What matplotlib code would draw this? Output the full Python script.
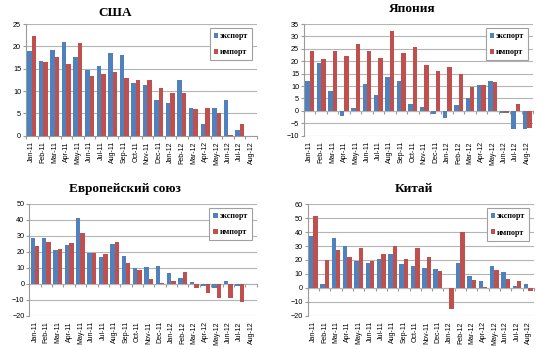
import matplotlib
matplotlib.use("Agg")
import matplotlib.pyplot as plt
import numpy as np

months = ["Jan-11", "Feb-11", "Mar-11", "Apr-11", "May-11", "Jun-11", "Jul-11",
          "Aug-11", "Sep-11", "Oct-11", "Nov-11", "Dec-11", "Jan-12", "Feb-12",
          "Mar-12", "Apr-12", "May-12", "Jun-12", "Jul-12", "Aug-12"]

usa_export = [19.0, 16.8, 19.2, 21.0, 17.6, 14.7, 15.6, 18.5, 18.1, 11.9,
              11.3, 7.9, 7.3, 12.5, 6.3, 2.7, 6.2, 8.1, 1.2, 0.0]
usa_import = [22.3, 16.6, 17.6, 16.0, 20.7, 13.4, 13.7, 14.3, 13.0, 12.4,
              12.4, 10.7, 9.5, 9.6, 6.0, 6.3, 5.0, 0.1, 2.6, 0.0]

japan_export = [12.0, 19.1, 8.1, -2.0, 1.2, 11.0, 6.5, 13.7, 12.2, 2.6,
                1.5, -1.3, -2.8, 2.3, 5.0, 10.3, 12.0, -0.8, -7.5, -7.2]
japan_import = [24.2, 20.8, 24.2, 22.3, 27.0, 24.0, 21.2, 32.0, 23.2, 25.9,
                18.3, 16.0, 17.5, 15.0, 9.8, 10.6, 11.5, -0.8, 2.6, -7.0]

eu_export = [28.8, 28.6, 21.3, 24.3, 41.4, 19.4, 16.8, 25.2, 17.4, 9.7,
             10.8, 11.3, 6.7, 3.4, 1.2, -1.5, -2.5, 1.8, -1.5, 0.0]
eu_import = [23.6, 26.0, 21.8, 25.6, 32.0, 19.0, 18.5, 26.0, 13.3, 8.9,
             3.3, 0.7, 1.8, 7.1, -2.5, -5.5, -9.2, -9.2, -11.3, 0.0]

china_export = [37.5, 2.5, 35.8, 30.0, 19.0, 17.8, 20.5, 24.4, 17.3, 15.8,
                14.0, 13.5, 0.0, 18.2, 8.7, 5.0, 15.5, 11.5, 1.2, 3.0]
china_import = [51.8, 20.0, 27.5, 22.0, 28.5, 19.0, 24.3, 30.0, 21.0, 28.4,
                22.0, 12.2, -15.3, 39.8, 5.5, 0.7, 13.0, 6.5, 5.0, -2.5]

series_labels = ["экспорт", "импорт"]
colors = ["#4f81bd", "#c0504d"]

W, H = 553, 349
fig = plt.figure(figsize=(W / 100, H / 100), dpi=100)

panels = [
    # title, export, import, ylim, step, axes box (px: left, right, top, bottom), title pos (px)
    ("США", usa_export, usa_import, (0, 25), 5, (26, 257, 24, 135.7), (115, 13)),
    ("Япония", japan_export, japan_import, (-10, 35), 5, (304, 533, 24, 135.7), (412, 9)),
    ("Европейский союз", eu_export, eu_import, (-20, 50), 10, (29.3, 256.7, 204, 315.7), (125, 189)),
    ("Китай", china_export, china_import, (-20, 60), 10, (307.7, 534, 204.3, 315.7), (413.5, 189)),
]

grid_color = "#b4b4b4"
x = np.arange(len(months))
bw = 0.39

for title, exp, imp, ylim, step, box, tpos in panels:
    l, r, t, b = box
    ax = fig.add_axes([l / W, 1 - b / H, (r - l) / W, (b - t) / H])
    ax.bar(x - bw / 2, exp, bw, color=colors[0], label=series_labels[0], zorder=3)
    ax.bar(x + bw / 2, imp, bw, color=colors[1], label=series_labels[1], zorder=3)
    ax.set_xlim(-0.5, len(months) - 0.5)
    ax.set_ylim(*ylim)
    ax.set_yticks(np.arange(ylim[0], ylim[1] + step / 2, step))
    ax.yaxis.grid(True, color=grid_color, linewidth=0.8, zorder=0)
    ax.set_axisbelow(True)
    for s in ("top", "right", "bottom"):
        ax.spines[s].set_visible(False)
    ax.spines["left"].set_color("#9a9a9a")
    ax.spines["left"].set_linewidth(0.8)
    ax.tick_params(axis="y", labelsize=5.2, length=2, color="#9a9a9a", pad=1.5)
    ax.set_xticks(x)
    ax.set_xticklabels(months, rotation=90, fontsize=5.0)
    ax.tick_params(axis="x", length=0, pad=4)
    for lab in ax.get_xticklabels() + ax.get_yticklabels():
        lab.set_fontfamily("Liberation Sans")

    # category axis line at zero with tick marks between categories
    zero_frac = (0 - ylim[0]) / (ylim[1] - ylim[0])
    sec = ax.secondary_xaxis(zero_frac)
    sec.set_xticks(np.arange(-0.5, len(months), 1.0))
    sec.set_xticklabels([])
    sec.tick_params(axis="x", length=2.5, color="#9a9a9a", direction="out", width=0.8)
    sec.spines["bottom"].set_color("#9a9a9a")
    sec.spines["bottom"].set_linewidth(0.8)

    leg = ax.legend(loc="upper right", bbox_to_anchor=(0.98, 0.965),
                    prop={"family": "Liberation Serif", "weight": "bold", "size": 5.8},
                    handlelength=0.55, handleheight=0.55, handletextpad=0.25,
                    labelspacing=1.05, borderpad=0.5, borderaxespad=0,
                    fancybox=False, framealpha=1, edgecolor="#a0a0a0")
    leg.get_frame().set_linewidth(0.8)

    fig.text(tpos[0] / W, 1 - tpos[1] / H, title, ha="center", va="center",
             fontfamily="Liberation Serif", fontweight="bold", fontsize=9.5)

fig.savefig("out.png", dpi=100)
